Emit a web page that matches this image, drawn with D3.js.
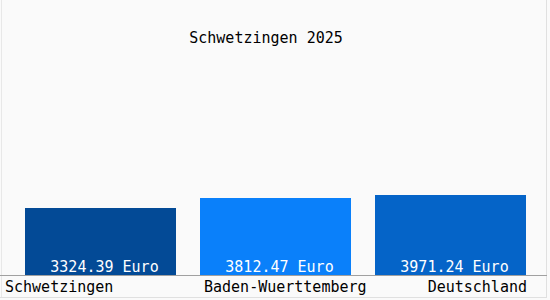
<!DOCTYPE html>
<html>
<head>
<meta charset="utf-8">
<script src="https://cdn.jsdelivr.net/npm/d3@7"></script>
<style>
  html, body { margin: 0; padding: 0; background: #fafafa; }
  svg { display: block; }
  text { font-family: "DejaVu Sans Mono", "Liberation Mono", monospace; font-size: 15px; }
</style>
</head>
<body>
<div id="chart"></div>
<script>
// Durchschnittseinkommen je Region
const title = "Schwetzingen 2025";
const regions = ["Schwetzingen", "Baden-Wuerttemberg", "Deutschland"];
const values = [3324.39, 3812.47, 3971.24];
const valueLabels = ["3324.39 Euro", "3812.47 Euro", "3971.24 Euro"];
const barColors = ["#034a96", "#0a80fa", "#0564c8"];

(function () {
  const W = 550, H = 300;
  const svg = d3.select("#chart").append("svg")
    .attr("width", W).attr("height", H);

  svg.append("rect").attr("width", W).attr("height", H).attr("fill", "#fafafa");

  // faint frame
  svg.append("line").attr("x1", 1.5).attr("x2", 1.5).attr("y1", 0).attr("y2", 297)
    .attr("stroke", "#e8e8e8");
  svg.append("line").attr("x1", 546.5).attr("x2", 546.5).attr("y1", 0).attr("y2", 297.5)
    .attr("stroke", "#e0e0e0");
  svg.append("line").attr("x1", 0).attr("x2", 547).attr("y1", 297.5).attr("y2", 297.5)
    .attr("stroke", "#e0e0e0");

  const x = d3.scaleBand().domain(regions).range([25, 526]).paddingInner(24 / 175).paddingOuter(0);
  const y = d3.scaleLinear().domain([0, 11000]).range([275, 53]);

  svg.append("g").selectAll("rect")
    .data(values).join("rect")
    .attr("x", (d, i) => Math.round(x(regions[i])))
    .attr("width", Math.round(x.bandwidth()))
    .attr("y", d => Math.round(y(d)))
    .attr("height", d => 275 - Math.round(y(d)))
    .attr("fill", (d, i) => barColors[i]);

  svg.append("g").selectAll("text")
    .data(valueLabels).join("text")
    .attr("x", (d, i) => x(regions[i]) + x.bandwidth() / 2 + 4)
    .attr("y", 272)
    .attr("text-anchor", "middle")
    .attr("fill", "#ffffff")
    .text(d => d);

  // axis line
  svg.append("line").attr("x1", 0).attr("x2", 547).attr("y1", 275.5).attr("y2", 275.5)
    .attr("stroke", "#a0a0a0");

  // category labels: first left, middle at bar start, last right aligned
  const anchors = ["start", "start", "end"];
  svg.append("g").selectAll("text")
    .data(regions).join("text")
    .attr("x", (d, i) => i === 0 ? 5 : i === 1 ? x(d) + 4 : x(d) + x.bandwidth() + 1)
    .attr("y", 292)
    .attr("text-anchor", (d, i) => anchors[i])
    .attr("fill", "#000")
    .text(d => d);

  svg.append("text")
    .attr("x", 266).attr("y", 43)
    .attr("text-anchor", "middle")
    .attr("fill", "#000")
    .text(title);
})();
</script>
</body>
</html>
